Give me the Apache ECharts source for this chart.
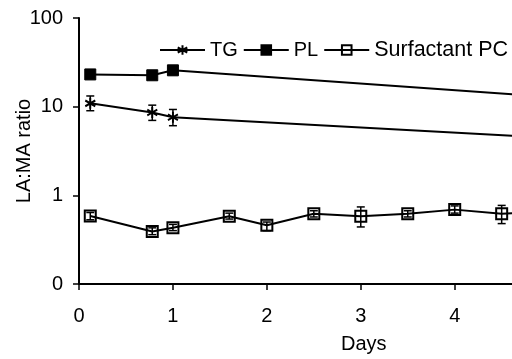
<!DOCTYPE html>
<html>
<head>
<meta charset="utf-8">
<script src="https://cdn.jsdelivr.net/npm/echarts@6/dist/echarts.min.js"></script>
<style>
html,body{margin:0;padding:0;background:#fff;}
#chart{width:512px;height:359px;}
</style>
</head>
<body>
<div id="chart"></div>
<script>
// ---- data ----
const xTicks = [0, 1, 2, 3, 4];
const yTickValues = [0.1, 1, 10, 100];
const yTickLabels = ['0', '1', '10', '100'];
const seriesNames = ['TG', 'PL', 'Surfactant PC'];

const tgDays = [0.12, 0.78, 1.0, 5.0];
const tgValues = [10.9, 8.6, 7.6, 4.46];
const tgErrLow = [9.0, 7.0, 6.1];
const tgErrHigh = [13.2, 10.4, 9.3];

const plDays = [0.12, 0.78, 1.0, 5.0];
const plValues = [23.1, 22.6, 25.7, 12.9];
const plErrLow = [21.5, 21.0, 23.0];
const plErrHigh = [24.8, 24.2, 28.8];

const spcDays = [0.12, 0.78, 1.0, 1.6, 2.0, 2.5, 3.0, 3.5, 4.0, 4.5, 5.0];
const spcValues = [0.585, 0.39, 0.43, 0.58, 0.46, 0.62, 0.58, 0.62, 0.69, 0.62, 0.65];
const spcErrLow = [0.53, 0.36, 0.40, 0.54, 0.40, 0.57, 0.44, 0.57, 0.63, 0.48];
const spcErrHigh = [0.64, 0.43, 0.47, 0.63, 0.50, 0.67, 0.74, 0.67, 0.76, 0.77];

// ---- build ----
const FONT = '"Liberation Sans", Arial, Helvetica, sans-serif';
function pts(xs, ys) { return xs.map((x, i) => [x, ys[i]]); }
function errPts(xs, lo, hi) { return lo.map((l, i) => [xs[i], l, hi[i]]); }

const asterisk = 'path://M0,-5L0,5M-4.5,-2.6L4.5,2.6M-4.5,2.6L4.5,-2.6M0,-5';

function errorSeries(data) {
  return {
    type: 'custom',
    z: 5,
    clip: true,
    silent: true,
    data: data,
    renderItem: function (params, api) {
      const x = api.value(0);
      const top = api.coord([x, api.value(2)]);
      const bot = api.coord([x, api.value(1)]);
      const w = 4;
      const st = { stroke: '#000', lineWidth: 1.5, fill: null };
      return {
        type: 'group',
        children: [
          { type: 'line', shape: { x1: top[0], y1: top[1], x2: bot[0], y2: bot[1] }, style: st },
          { type: 'line', shape: { x1: top[0] - w, y1: top[1], x2: top[0] + w, y2: top[1] }, style: st },
          { type: 'line', shape: { x1: bot[0] - w, y1: bot[1], x2: bot[0] + w, y2: bot[1] }, style: st }
        ]
      };
    }
  };
}

const chart = echarts.init(document.getElementById('chart'), null, { renderer: 'canvas' });
chart.setOption({
  animation: false,
  backgroundColor: '#fff',
  textStyle: { fontFamily: FONT, color: '#000' },
  grid: { left: 79, right: 0, top: 18, bottom: 75, containLabel: false, outerBoundsMode: 'none' },
  legend: {
    data: seriesNames,
    left: 159,
    top: 39,
    width: 360,
    itemWidth: 45,
    itemHeight: 12,
    itemGap: 5,
    padding: 0,
    formatter: function (name) { return name === 'Surfactant PC' ? '{w|' + name + '}' : name; },
    textStyle: { fontFamily: FONT, fontSize: 20, color: '#000',
      rich: { w: { fontFamily: FONT, fontSize: 21.5, color: '#000' } } }
  },
  xAxis: {
    type: 'value',
    min: 0,
    max: 4.61,
    interval: 1,
    splitLine: { show: false },
    axisLine: { lineStyle: { color: '#000', width: 2 } },
    axisTick: { show: true, length: 6, lineStyle: { color: '#000', width: 1.5 },
      customValues: xTicks },
    axisLabel: { fontFamily: FONT, fontSize: 20, color: '#000', margin: 22,
      customValues: xTicks, formatter: v => String(v) }
  },
  yAxis: {
    type: 'log',
    logBase: 10,
    min: 0.1,
    max: 100,
    name: 'LA:MA ratio',
    nameLocation: 'middle',
    nameGap: 45,
    nameMoveOverlap: false,
    nameTextStyle: { fontFamily: FONT, fontSize: 20, color: '#000' },
    splitLine: { show: false },
    axisLine: { show: true, lineStyle: { color: '#000', width: 2 } },
    axisTick: { show: true, length: 6, lineStyle: { color: '#000', width: 1.5 },
      customValues: yTickValues },
    axisLabel: { fontFamily: FONT, fontSize: 20, color: '#000', margin: 16,
      customValues: yTickValues,
      formatter: function (v) {
        const i = yTickValues.findIndex(t => Math.abs(Math.log10(t) - Math.log10(v)) < 1e-6);
        return i >= 0 ? yTickLabels[i] : '';
      } }
  },
  graphic: [
    { type: 'text', left: 341, top: 334,
      style: { text: 'Days', fontFamily: FONT, fontSize: 20, fill: '#000' } }
  ],
  series: [
    {
      name: 'TG', type: 'line', clip: true, z: 3,
      data: pts(tgDays, tgValues),
      symbol: asterisk, symbolSize: [10, 11],
      itemStyle: { color: '#000', borderColor: '#000', borderWidth: 2 },
      lineStyle: { color: '#000', width: 2 }
    },
    {
      name: 'PL', type: 'line', clip: true, z: 3,
      data: pts(plDays, plValues),
      symbol: 'rect', symbolSize: 11,
      itemStyle: { color: '#000', borderColor: '#000', borderWidth: 1 },
      lineStyle: { color: '#000', width: 2 }
    },
    {
      name: 'Surfactant PC', type: 'line', clip: true, z: 3,
      data: pts(spcDays, spcValues),
      symbol: 'rect', symbolSize: 11,
      itemStyle: { color: 'rgba(255,255,255,0)', borderColor: '#000', borderWidth: 2 },
      lineStyle: { color: '#000', width: 2 }
    },
    errorSeries(errPts(tgDays, tgErrLow, tgErrHigh)),
    errorSeries(errPts(plDays, plErrLow, plErrHigh)),
    errorSeries(errPts(spcDays, spcErrLow, spcErrHigh))
  ]
});
</script>
</body>
</html>
